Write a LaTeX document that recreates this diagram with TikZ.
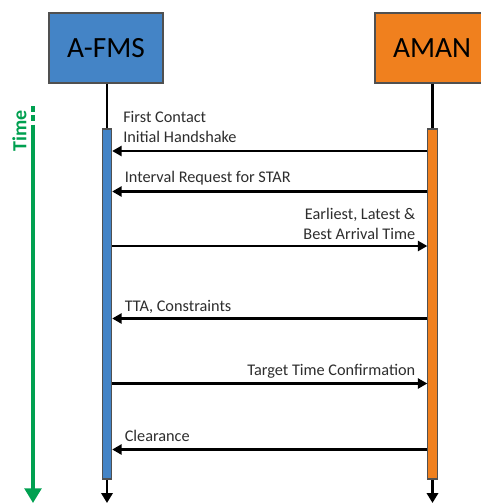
\documentclass[tikz,border=0pt]{standalone}
\usepackage{fontspec}
\setmainfont{Carlito}
\usetikzlibrary{arrows.meta}
\definecolor{fmsblue}{RGB}{68,132,198}
\definecolor{amanorange}{RGB}{240,128,30}
\definecolor{timegreen}{RGB}{0,160,80}
\definecolor{edgegray}{RGB}{80,80,80}
\definecolor{txtgray}{RGB}{45,45,45}
\tikzset{
  actor/.style={draw=edgegray, line width=0.8pt, minimum width=85.5pt, minimum height=52.5pt, inner sep=0pt, font=\fontsize{22}{26}\selectfont, text=black},
  bar/.style={draw=edgegray, line width=0.8pt, minimum width=7pt, minimum height=262.5pt, inner sep=0pt},
  life/.style={line width=1.8pt, black},
  lifeend/.style={life, -{Triangle[length=7.5pt,width=8.5pt]}},
  msg/.style={line width=1.6pt, black, -{Triangle[length=7pt,width=7.5pt]}},
  lbl/.style={inner sep=0pt, text depth=0pt, font=\fontsize{12.2}{15}\selectfont, text=txtgray},
}
\begin{document}
\begin{tikzpicture}[x=0.75pt,y=-0.75pt]
\useasboundingbox (0,0) rectangle (480,504);
% actors
\node[actor, fill=fmsblue] (fms) at (106,48) {A-FMS};
\node[actor, fill=amanorange] (aman) at (432,48) {AMAN};
% activation bars
\coordinate (fmsbarc) at (107,304);
\coordinate (amanbarc) at (432.5,304);
\coordinate (fmsend) at (107,503);
\coordinate (amanend) at (432.5,503);
\draw[life] (fms.south -| fmsbarc) -- (107,130);
\draw[life] (aman.south -| amanbarc) -- (432.5,130);
\draw[lifeend] (107,478) -- (fmsend);
\draw[lifeend] (432.5,478) -- (amanend);
\node[bar, fill=fmsblue] (fmsbar) at (fmsbarc) {};
\node[bar, fill=amanorange] (amanbar) at (amanbarc) {};
% time axis
\coordinate (t0) at (33,106);
\coordinate (t1) at (33,131);
\coordinate (t2) at (33,503);
\draw[timegreen, line width=2.6pt, dash pattern=on 4.5pt off 2.5pt] (t0) -- (t1);
\draw[timegreen, line width=2.6pt, -{Triangle[length=11pt,width=12.5pt]}] (t1) -- (t2);
\node[rotate=90, text=timegreen, font=\bfseries\fontsize{15}{17}\selectfont, inner sep=0pt] (time) at (19.5,131) {Time};
% messages
\draw[msg] (amanbar.west |- 0,151) -- (fmsbar.east |- 0,151);
\node[lbl, anchor=south west, align=left] (m1) at (123,143) {First Contact\\Initial Handshake};
\draw[msg] (amanbar.west |- 0,191.5) -- (fmsbar.east |- 0,191.5);
\node[lbl, anchor=south west] (m2) at (124.5,183) {Interval Request for STAR};
\draw[msg] (fmsbar.east |- 0,246) -- (amanbar.west |- 0,246);
\node[lbl, anchor=south east, align=right] (m3) at (415.5,240) {Earliest, Latest \&\\Best Arrival Time};
\draw[msg] (amanbar.west |- 0,318.5) -- (fmsbar.east |- 0,318.5);
\node[lbl, anchor=south west] (m4) at (124.5,312) {TTA, Constraints};
\draw[msg] (fmsbar.east |- 0,383.5) -- (amanbar.west |- 0,383.5);
\node[lbl, anchor=south east] (m5) at (415.5,376) {Target Time Confirmation};
\draw[msg] (amanbar.west |- 0,449.5) -- (fmsbar.east |- 0,449.5);
\node[lbl, anchor=south west] (m6) at (124.5,442) {Clearance};
\end{tikzpicture}
\end{document}
